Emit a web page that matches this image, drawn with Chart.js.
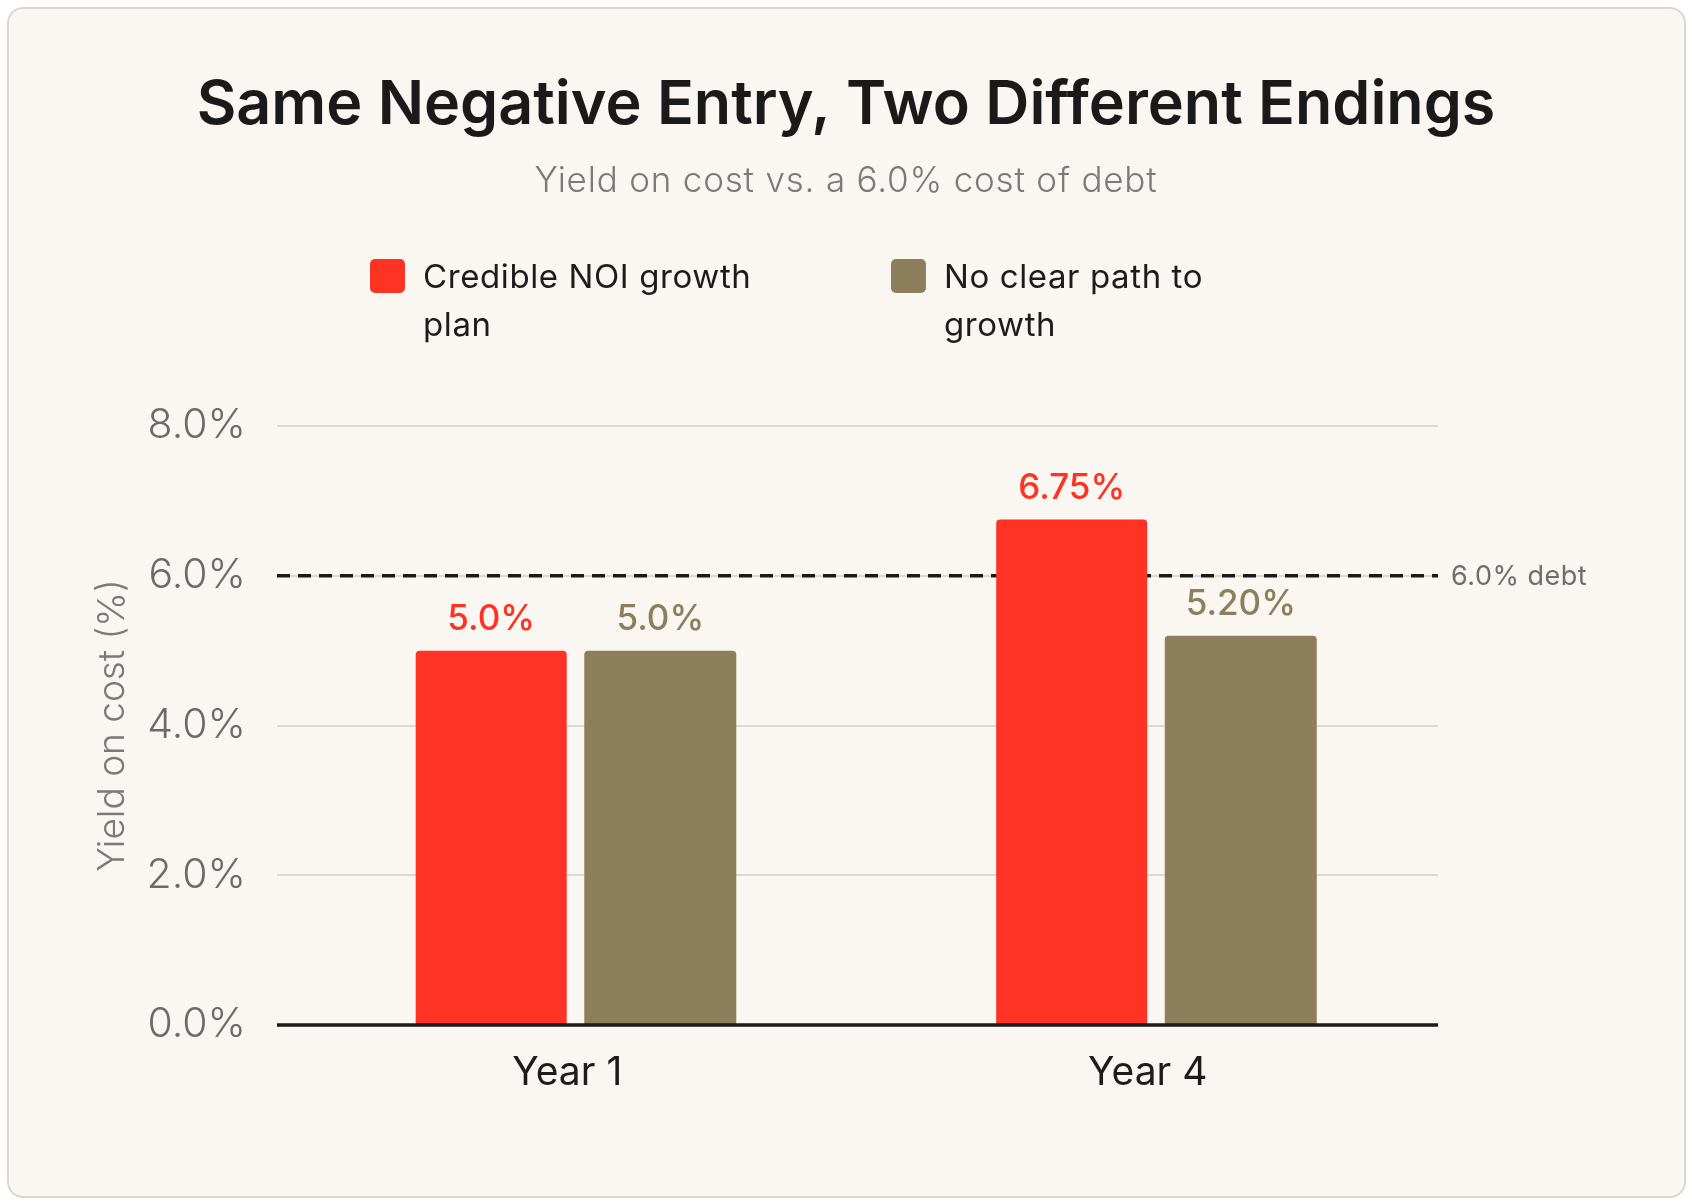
<!DOCTYPE html>
<html>
<head>
<meta charset="utf-8">
<script src="https://cdn.jsdelivr.net/npm/chart.js@4.4.1/dist/chart.umd.min.js"></script>
<style>
  html, body { margin: 0; padding: 0; background: #ffffff; }
  body { width: 1692px; height: 1203px; position: relative; overflow: hidden; }
  #card { position: absolute; left: 7px; top: 7px; width: 1675px; height: 1187px;
          border: 2px solid #dad7d1; border-radius: 16px; background: #faf7f2; }
  #wrap { position: absolute; left: 0; top: 0; width: 1692px; height: 1203px; }
</style>
</head>
<body>
<div id="card"></div>
<div id="wrap"><canvas id="c"></canvas></div>
<script>
const categories = ["Year 1", "Year 4"];
const seriesNames = ["Credible NOI growth plan", "No clear path to growth"];
const legendLines = [["Credible NOI growth", "plan"], ["No clear path to", "growth"]];
const credibleValues = [5.0, 6.75];
const noPathValues = [5.0, 5.2];
const valueLabels = [["5.0%", "6.75%"], ["5.0%", "5.20%"]];
const yTicks = [0, 2, 4, 6, 8];
const debtCost = 6.0;
const debtLabel = "6.0% debt";
const titleText = "Same Negative Entry, Two Different Endings";
const subtitleText = "Yield on cost vs. a 6.0% cost of debt";
const yAxisTitle = "Yield on cost (%)";

const RED = "#ff3323";
const TAN = "#8e7f5c";
const FONT = "Inter, 'Noto Sans', sans-serif";

const overlayPlugin = {
  id: "overlay",
  beforeDatasetsDraw(chart) {
    const {ctx, chartArea} = chart;
    const y = chart.scales.y.getPixelForValue(debtCost);
    ctx.save();
    ctx.strokeStyle = "#1a1a1a";
    ctx.lineWidth = 3.5;
    ctx.setLineDash([13, 8]);
    ctx.beginPath();
    ctx.moveTo(chartArea.left, y);
    ctx.lineTo(chartArea.right, y);
    ctx.stroke();
    ctx.setLineDash([]);
    ctx.fillStyle = "#6e6e6e";
    ctx.font = "400 27px " + FONT;
    ctx.letterSpacing = "0.5px";
    ctx.textAlign = "left";
    ctx.textBaseline = "middle";
    ctx.fillText(debtLabel, chartArea.right + 13, y + 1);
    ctx.restore();
  },
  afterDatasetsDraw(chart) {
    const {ctx, chartArea} = chart;
    ctx.save();
    const y0 = chart.scales.y.getPixelForValue(0);
    ctx.strokeStyle = "#1a1a1a";
    ctx.lineWidth = 3.5;
    ctx.beginPath();
    ctx.moveTo(chartArea.left, y0);
    ctx.lineTo(chartArea.right, y0);
    ctx.stroke();
    ctx.font = "500 35px " + FONT;
    ctx.textAlign = "center";
    ctx.textBaseline = "middle";
    chart.data.datasets.forEach((ds, di) => {
      const meta = chart.getDatasetMeta(di);
      meta.data.forEach((bar, i) => {
        ctx.fillStyle = ds.backgroundColor;
        ctx.fillText(valueLabels[di][i], bar.x, bar.y - 31);
      });
    });
    ctx.restore();
  },
  afterDraw(chart) {
    const {ctx} = chart;
    const cx = chart.width / 2;
    ctx.save();
    ctx.textAlign = "center";
    ctx.textBaseline = "alphabetic";
    ctx.fillStyle = "#1a1a1a";
    ctx.font = "600 61px " + FONT;
    ctx.fillText(titleText, cx, 124);
    ctx.fillStyle = "#7a7a7a";
    ctx.font = "300 35px " + FONT;
    ctx.letterSpacing = "0.8px";
    ctx.fillText(subtitleText, cx, 192);
    ctx.letterSpacing = "0px";

    const boxes = [{x: 370, color: RED, tx: 423}, {x: 891, color: TAN, tx: 944}];
    boxes.forEach((b, i) => {
      ctx.fillStyle = b.color;
      ctx.beginPath();
      ctx.roundRect(b.x, 259, 35, 34, 5);
      ctx.fill();
      ctx.fillStyle = "#1c1c1c";
      ctx.font = "400 33px " + FONT;
      ctx.letterSpacing = "0.6px";
      ctx.textAlign = "left";
      ctx.textBaseline = "alphabetic";
      legendLines[i].forEach((line, li) => {
        ctx.fillText(line, b.tx, 288 + li * 48);
      });
      ctx.letterSpacing = "0px";
    });
    ctx.restore();
  }
};

new Chart(document.getElementById("c"), {
  type: "bar",
  data: {
    labels: categories,
    datasets: [
      { label: seriesNames[0], data: credibleValues, backgroundColor: RED,
        borderRadius: 4, borderSkipped: "start", categoryPercentage: 0.524, barPercentage: 0.993 },
      { label: seriesNames[1], data: noPathValues, backgroundColor: TAN,
        borderRadius: 4, borderSkipped: "start", categoryPercentage: 0.641, barPercentage: 0.817 }
    ]
  },
  options: {
    responsive: true,
    maintainAspectRatio: false,
    animation: false,
    devicePixelRatio: 1,
    layout: { padding: { left: 0, right: 254, top: 426, bottom: 78 } },
    plugins: {
      legend: { display: false },
      tooltip: { enabled: false },
      title: { display: false },
      subtitle: { display: false }
    },
    scales: {
      x: {
        grid: { display: false, drawTicks: false },
        border: { display: false },
        ticks: { color: "#1c1c1c", font: { family: FONT, size: 39, weight: 400 }, padding: 25 },
        afterFit(scale) { scale.height = 100; }
      },
      y: {
        min: 0, max: 8,
        afterBuildTicks(scale) { scale.ticks = yTicks.map(v => ({ value: v })); },
        grid: { color: "#ddd9d2", lineWidth: 2, drawTicks: false },
        border: { display: false },
        ticks: {
          color: "#6b6b6b", padding: 31,
          font: { family: FONT, size: 41, weight: 300 },
          callback: (v) => Number(v).toFixed(1) + "%"
        },
        title: {
          display: true, text: yAxisTitle, color: "#7a7a7a",
          font: { family: FONT, size: 37, weight: 300, lineHeight: 1.2 },
          padding: { top: 91, bottom: 0 }
        },
        afterFit(scale) { scale.width = 277; }
      }
    }
  },
  plugins: [overlayPlugin]
});
</script>
</body>
</html>
